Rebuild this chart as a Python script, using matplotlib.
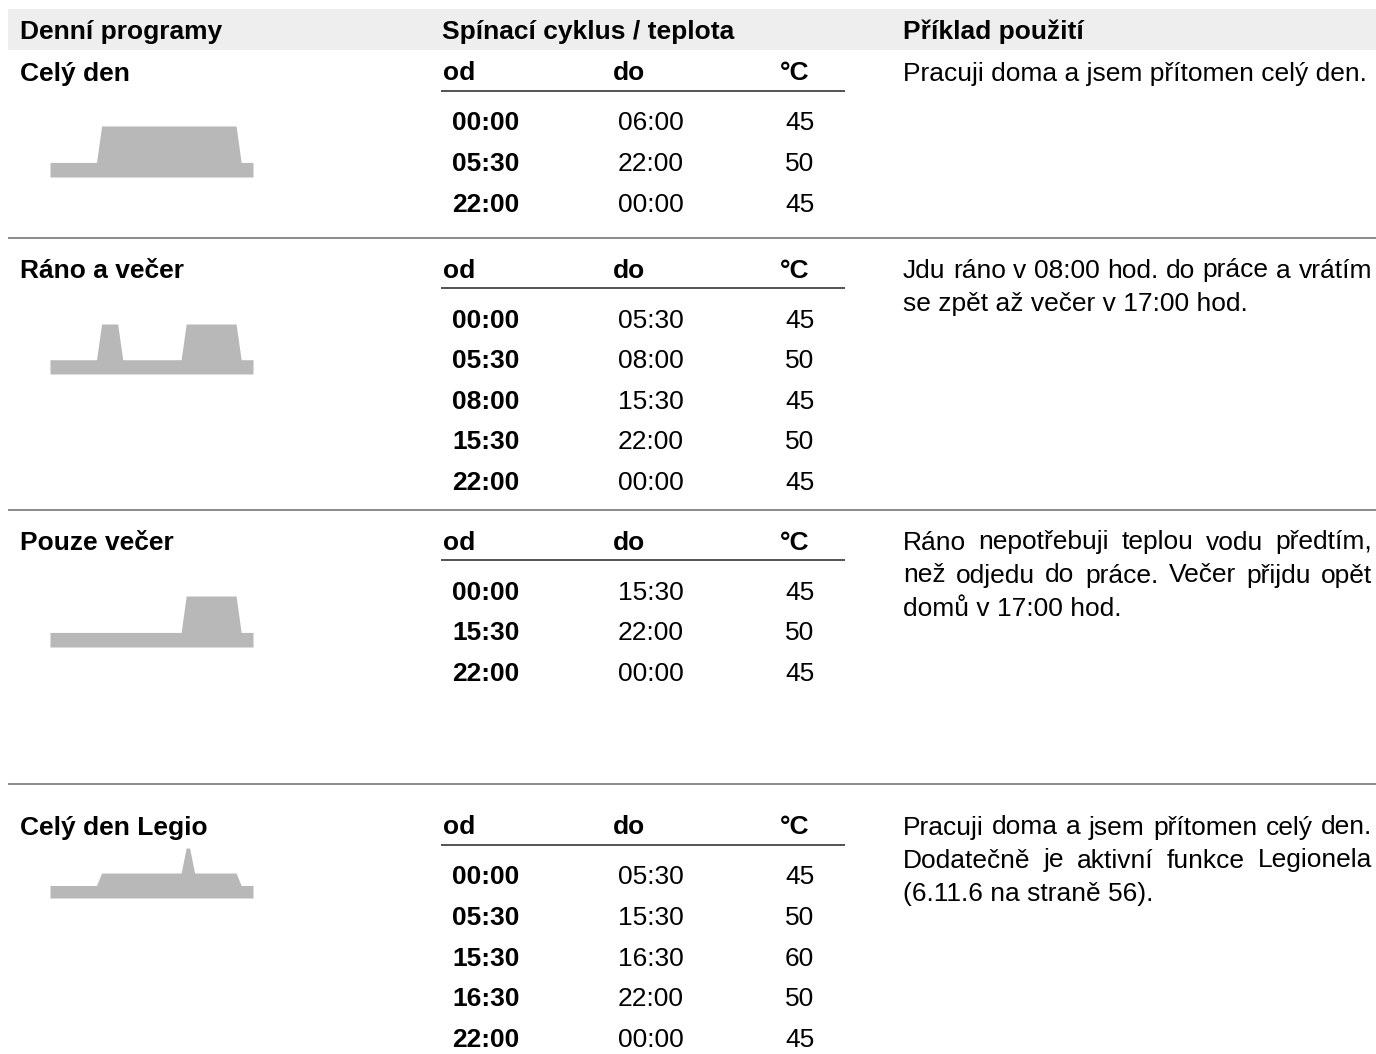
import matplotlib.pyplot as plt

plt.rcParams['font.family'] = ['Liberation Sans', 'DejaVu Sans']

# column headers
col_headers = ["Denní programy", "Spínací cyklus / teplota", "Příklad použití"]
sub_headers = ["od", "do", "°C"]

# programs
program_names = ["Celý den", "Ráno a večer", "Pouze večer", "Celý den Legio"]
od_times = [
    ["00:00", "05:30", "22:00"],
    ["00:00", "05:30", "08:00", "15:30", "22:00"],
    ["00:00", "15:30", "22:00"],
    ["00:00", "05:30", "15:30", "16:30", "22:00"],
]
do_times = [
    ["06:00", "22:00", "00:00"],
    ["05:30", "08:00", "15:30", "22:00", "00:00"],
    ["15:30", "22:00", "00:00"],
    ["05:30", "15:30", "16:30", "22:00", "00:00"],
]
temps = [
    [45, 50, 45],
    [45, 50, 45, 50, 45],
    [45, 50, 45],
    [45, 50, 60, 50, 45],
]
descriptions = [
    ["Pracuji doma a jsem přítomen celý den."],
    ["Jdu ráno v 08:00 hod. do práce a vrátím",
     "se zpět až večer v 17:00 hod."],
    ["Ráno nepotřebuji teplou vodu předtím,",
     "než odjedu do práce. Večer přijdu opět",
     "domů v 17:00 hod."],
    ["Pracuji doma a jsem přítomen celý den.",
     "Dodatečně je aktivní funkce Legionela",
     "(6.11.6 na straně 56)."],
]

# layout (pixels)
W, H = 1376, 1054
FS = 19
section_top = [71, 268, 540, 825]
separators = [238, 510, 784]
profile_box = [(126, 177), (324, 374), (596, 647), (848, 898)]
profile_ylim = [(43, 50), (43, 50), (43, 50), (40, 60)]
row_step = 40.6
line_step = 33
base_off = 9.5
PROFILE_COLOR = "#b8b8b8"

fig = plt.figure(figsize=(W / 100, H / 100), dpi=100)
ax = fig.add_axes([0, 0, 1, 1])
ax.set_xlim(0, W)
ax.set_ylim(H, 0)
ax.axis('off')
renderer = fig.canvas.get_renderer()


def text_width(s, weight='normal'):
    t = ax.text(0, 0, s, fontsize=FS, fontweight=weight)
    w = t.get_window_extent(renderer).width
    t.remove()
    return w


def put(x, yc, s, weight='normal'):
    ax.text(x, yc + base_off, s, fontsize=FS, fontweight=weight,
            va='baseline', ha='left', color='black')


def justified(x0, x1, yc, line):
    words = line.split(' ')
    widths = [text_width(w) for w in words]
    gap = (x1 - x0 - sum(widths)) / (len(words) - 1)
    x = x0
    for w, wd in zip(words, widths):
        put(x, yc, w)
        x += wd + gap


def to_hours(s):
    h, m = s.split(':')
    return int(h) + int(m) / 60


# header band
ax.fill_between([8, W], 9, 50, color="#eeeeee", lw=0)
for x, s in zip([20, 442, 903], col_headers):
    put(x, 30, s, 'bold')

for sep in separators:
    ax.plot([8, W], [sep, sep], color="#8a8a8a", lw=1.4, solid_capstyle='butt')

for i, name in enumerate(program_names):
    top = section_top[i]
    put(20, top, name, 'bold')
    for x, s in zip([443, 613, 780], sub_headers):
        put(x, top, s, 'bold')
    ax.plot([441, 845], [top + 20, top + 20], color="#444444", lw=1.3,
            solid_capstyle='butt')
    for r in range(len(od_times[i])):
        yc = top + 50 + r * row_step
        put(452, yc, od_times[i][r], 'bold')
        put(618, yc, do_times[i][r])
        put(785, yc, str(temps[i][r]))

    lines = descriptions[i]
    for k, line in enumerate(lines):
        yc = top + k * line_step
        if k < len(lines) - 1:
            justified(903, 1372, yc, line)
        else:
            put(903, yc, line)

    # temperature profile
    ytop, ybot = profile_box[i]
    pax = fig.add_axes([50 / W, 1 - ybot / H, 203 / W, (ybot - ytop) / H])
    pax.set_xlim(0, 24)
    pax.set_ylim(*profile_ylim[i])
    pax.axis('off')
    xs = [0]
    ys = [temps[i][0]]
    for t_s, T in zip(od_times[i][1:], temps[i][1:]):
        t = to_hours(t_s)
        xs += [t, t + 0.6]
        ys += [ys[-1], T]
    xs.append(24)
    ys.append(temps[i][-1])
    pax.fill_between(xs, profile_ylim[i][0], ys, color=PROFILE_COLOR, lw=0)

fig.savefig("out.png", dpi=100)
